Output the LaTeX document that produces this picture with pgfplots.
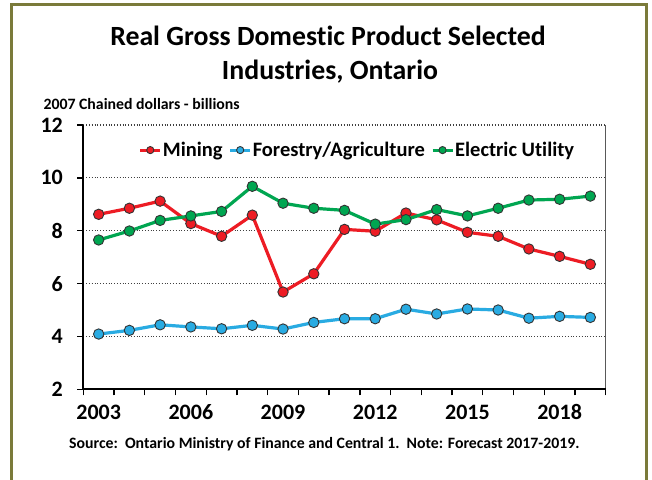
\documentclass[border=0pt]{standalone}
\usepackage{fontspec}
\setmainfont{Carlito}[Ligatures=NoCommon]
\usepackage{pgfplots}
\pgfplotsset{compat=1.18}
\definecolor{framec}{RGB}{122,122,58}
\definecolor{cmin}{RGB}{237,28,36}
\definecolor{cfor}{RGB}{41,171,226}
\definecolor{cele}{RGB}{0,166,81}
\begin{document}
\begin{tikzpicture}
\useasboundingbox (0bp,0bp) rectangle (652bp,480bp);
\fill[white] (0bp,0bp) rectangle (652bp,480bp);
\draw[framec, line width=3bp] (11.5bp,-10bp) rectangle (646.5bp,475bp);
\node[anchor=base, inner sep=0, font=\fontsize{27.8bp}{32bp}\selectfont\bfseries] at (328bp,434bp) {Real Gross Domestic Product Selected};
\node[anchor=base, inner sep=0, font=\fontsize{27.8bp}{32bp}\selectfont\bfseries] at (330bp,400.7bp) {Industries, Ontario};
\node[anchor=base west, inner sep=0, font=\fontsize{15.8bp}{18bp}\selectfont\bfseries] at (43.3bp,370bp) {2007 Chained dollars - billions};
\node[anchor=base, inner sep=0, font=\fontsize{15.8bp}{18bp}\selectfont\bfseries] at (324.3bp,32bp) {Source:\ \ Ontario Ministry of Finance and Central 1.\ \ Note: Forecast 2017-2019.};
\begin{axis}[
  at={(83.3bp,90.7bp)}, anchor=south west, scale only axis,
  width=522.4bp, height=264.3bp,
  xmin=2002.5, xmax=2019.5, ymin=2, ymax=12,
  axis x line*=bottom, axis y line*=left,
  axis line style={-, black, line width=1.8bp},
  xtick={2002.5,2003.5,...,2019.5}, xticklabels={},
  extra x ticks={2003,2006,2009,2012,2015,2018},
  extra x tick labels={2003,2006,2009,2012,2015,2018},
  extra x tick style={major tick length=0pt},
  ytick={2,4,...,12},
  ymajorgrids,
  grid style={black!75, line width=1.1bp, dash pattern=on 1.1bp off 1.7bp},
  tick align=outside, major tick length=6bp,
  tick style={black, line width=1.3bp},
  /pgf/number format/assume math mode=true,
  ticklabel style={font=\fontsize{22bp}{24bp}\selectfont\bfseries, inner sep=0pt},
  xticklabel style={anchor=north, text height=14.2bp, text depth=0pt, yshift=-15.7bp},
  yticklabel style={anchor=east, xshift=-14.3bp},
  legend columns=-1,
  legend style={at={(0.106,0.905)}, anchor=west, draw=none, fill=none,
    inner sep=0pt, outer sep=0pt, nodes={inner sep=1bp},
    font=\fontsize{20.5bp}{22bp}\selectfont\bfseries,
    /tikz/every even column/.append style={column sep=5bp}},
  legend image code/.code={
    \draw[#1, mark=none] (0bp,0bp) -- (20bp,0bp);
    \draw[#1] plot[mark size=3.6bp] coordinates {(10bp,0bp)};
  },
  every axis plot/.append style={line width=3.2bp, mark=*, mark size=5.2bp},
]
\addplot[cmin, mark options={fill=cmin, draw=black!80, line width=0.9bp}] coordinates {
(2003,8.62) (2004,8.85) (2005,9.12) (2006,8.27) (2007,7.79) (2008,8.59)
(2009,5.68) (2010,6.37) (2011,8.05) (2012,7.98) (2013,8.67) (2014,8.41)
(2015,7.94) (2016,7.79) (2017,7.31) (2018,7.03) (2019,6.73)};
\addlegendentry{Mining}
\addplot[cfor, mark options={fill=cfor, draw=black!80, line width=0.9bp}] coordinates {
(2003,4.09) (2004,4.23) (2005,4.44) (2006,4.36) (2007,4.29) (2008,4.42)
(2009,4.28) (2010,4.53) (2011,4.67) (2012,4.67) (2013,5.03) (2014,4.85)
(2015,5.04) (2016,5.00) (2017,4.69) (2018,4.76) (2019,4.72)};
\addlegendentry{Forestry/Agriculture}
\addplot[cele, mark options={fill=cele, draw=black!80, line width=0.9bp}] coordinates {
(2003,7.65) (2004,7.99) (2005,8.39) (2006,8.56) (2007,8.73) (2008,9.68)
(2009,9.04) (2010,8.85) (2011,8.77) (2012,8.25) (2013,8.42) (2014,8.80)
(2015,8.56) (2016,8.85) (2017,9.16) (2018,9.19) (2019,9.31)};
\addlegendentry{Electric Utility}
\draw[black, line width=1.8bp] (rel axis cs:1,0) -- (rel axis cs:1,1);
\end{axis}
\end{tikzpicture}
\end{document}
